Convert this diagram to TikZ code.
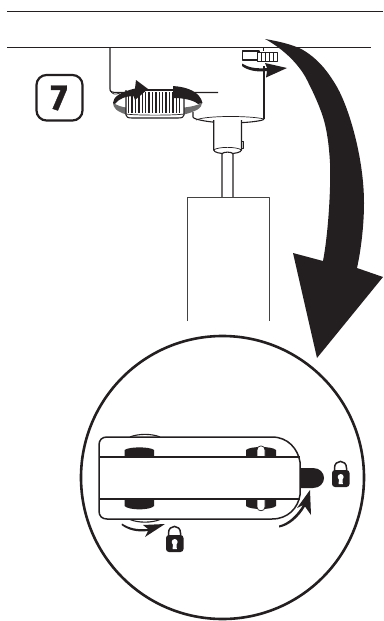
\documentclass[tikz,border=0pt]{standalone}
\usepackage{fontspec}
\setmainfont{Fira Sans}
\newfontfamily\numfont[BoldFont={Fira Sans Bold},BoldFeatures={FakeBold=1}]{Fira Sans}
\definecolor{ink}{HTML}{231F20}
\definecolor{ringgrey}{HTML}{6E6E6E}
\tikzset{
  part/.style={draw=ink,line width=1.1pt,line join=round},
  ceiling/.style={draw=ink,line width=0.9pt},
  thinpart/.style={draw=ink,line width=0.7pt,line join=round},
  lockshackle/.style={draw=ink,line width=1.5pt,fill=white},
}
\newcommand{\padlock}[2]{%
  \begin{scope}[shift={(#1,#2)}]
    \draw[lockshackle] (2.5,12) -- (2.5,7) .. controls (2.5,-1.8) and (14.5,-1.8) .. (14.5,7) -- (14.5,12);
    \fill[ink,rounded corners=3pt] (0,9) rectangle (17.5,26);
    \fill[white] (8.7,16) circle (3);
    \fill[white] (7,17) -- (10.4,17) -- (10.8,23) -- (6.6,23) -- cycle;
  \end{scope}}
\begin{document}
\begin{tikzpicture}[x=1pt,y=-1pt]
\useasboundingbox (0,0) rectangle (383,621);
% ceiling lines
\draw[ceiling] (7,11) -- (383,11);
\draw[ceiling] (7,47.5) -- (371,47.5);
% number box
\draw[draw=ink,line width=2.2pt,rounded corners=10pt] (36.5,75) rectangle (82.5,120.5);
\node[text=ink,font=\numfont\fontsize{36}{36}\selectfont\bfseries,inner sep=0pt] (num) at (59,98) {7};
% body
\draw[part] (110,47.5) -- (110,89) .. controls (110,92) and (112,92.5) .. (118,92.5) -- (218,92.5);
\draw[part] (264,66) -- (264,119);
\draw[part,fill=white] (193,112) -- (193,117) .. controls (193,120) and (215,123) .. (229,123) .. controls (245,123) and (264,121) .. (264,119);
\draw[thinpart] (196,120) .. controls (205,115.5) and (250,115.5) .. (264,119);
% neck
\draw[part,fill=white] (213.7,120) -- (213.7,150) .. controls (214,155) and (241,155) .. (241.5,150) -- (241.5,120);
\draw[thinpart] (213.7,150) .. controls (218,146.5) and (237,146.5) .. (241.5,150);
\draw[thinpart,fill=lightgray] (241.5,141) rectangle (243.5,148);
% rod
\draw[part,fill=white] (222,197) -- (222,154) .. controls (222,151.5) and (233,151.5) .. (233,154) -- (233,197);
% shade
\draw[thinpart,draw=ink!85] (187.5,321) -- (187.5,197) -- (269.5,197) -- (269.5,321);
% ring back
\fill[ringgrey] (113,103) .. controls (113.5,108) and (116,111) .. (126,114.5) -- (126,107.5) .. controls (121,107) and (117,105) .. (113,103) -- cycle;
\fill[ringgrey] (202,103) .. controls (202,108) and (196,111.5) .. (184,114.5) -- (184,107.5) .. controls (190,107) and (197,105.5) .. (202,103) -- cycle;
% knurled wheel
\draw[part,fill=white] (126,90) -- (126,115) .. controls (126,117) and (128,118) .. (132,118) -- (178,118) .. controls (182,118) and (184,117) .. (184,115) -- (184,90);
\foreach \k in {0,...,15}{ \fill[ink] ({128+\k*3.4},92) rectangle ({129.3+\k*3.4},113); }
\draw[thinpart] (126,114) .. controls (135,115.5) and (175,115.5) .. (184,114);
\draw[part] (136,90) -- (184,90);
% ring arrows
\draw[thinpart] (110,90) .. controls (112,94.5) and (115,95) .. (120,93);
\fill[ink] (113,103) .. controls (113.5,97) and (119,92.5) .. (135,88.5) -- (136,80) -- (148,89) -- (135,100) -- (133.5,96) .. controls (126,96) and (119,98.5) .. (115,104) -- cycle;
\fill[ink] (173,86) .. controls (188,87) and (200,92) .. (202.5,103) -- (198,104) .. controls (193,100) and (184,98) .. (173,98) -- cycle;
% knob
\draw[thinpart] (263,47.5) -- (263,51);
\draw[part,fill=white] (242.5,51) rectangle (259,60);
\draw[thinpart,fill=white] (257,52) rectangle (277,61);
\foreach \kx in {261,265,269,273}{\draw[thinpart] (\kx,52) -- (\kx,61);}
% small arrow at knob
\fill[ink] (242,63.5) .. controls (248,67.5) and (256,69) .. (267,68) -- (265,63) -- (287,68) -- (266,77.5) -- (267,71) .. controls (256,72.5) and (247,70) .. (242,66) -- cycle;
% big arrow
\fill[ink] (265,39) .. controls (283,42) and (296,46) .. (303,50) .. controls (320,60) and (330,75) .. (337,87) .. controls (350,110) and (364,160) .. (364,203) .. controls (364,225) and (361,250) .. (357,268) -- (383,277) -- (317,358) -- (293,253) -- (323,261) .. controls (328,235) and (331,190) .. (330,163) .. controls (329,145) and (327,130) .. (323,117) .. controls (318,102) and (312,90) .. (307,80) .. controls (298,62) and (280,47) .. cycle;
% detail circle
\draw[draw=ink,line width=2.6pt] (222.5,477.5) circle (141.5);
% adapter
\draw[part] (130,437) .. controls (138,433.5) and (152,433.5) .. (160,437);
\draw[part] (130,519.5) .. controls (138,523) and (152,523) .. (160,519.5);
\fill[ink] (124.5,457) -- (124.5,450) .. controls (129,446.5) and (150,446.5) .. (154,450) -- (154,457) -- cycle;
\fill[ink] (246,457) -- (246,450) .. controls (250,446) and (272,446) .. (276,450) -- (276,457) -- cycle;
\fill[ink] (124.5,499) -- (124.5,506) .. controls (129,510.5) and (150,510.5) .. (154,506) -- (154,499) -- cycle;
\fill[ink] (246,499) -- (246,506) .. controls (250,510) and (272,510) .. (276,506) -- (276,499) -- cycle;
\draw[thinpart,fill=white] (257,457) -- (257,450) .. controls (257,444.5) and (265,444.5) .. (265,450) -- (265,457) -- cycle;
\draw[thinpart,fill=white] (257,499) -- (257,507) .. controls (257,512) and (265,512) .. (265,507) -- (265,499) -- cycle;
\draw[draw=ink,line width=1.5pt] (107,437) -- (272,437) .. controls (288,437) and (298,449) .. (300,462) -- (300,495) .. controls (298,508) and (288,519) .. (272,519) -- (107,519) .. controls (102,519) and (99,516) .. (99,511) -- (99,445) .. controls (99,440) and (102,437) .. (107,437) -- cycle;
\draw[draw=ink,line width=1.5pt] (99,457) -- (300,457);
\draw[draw=ink,line width=1.5pt] (99,499) -- (300,499);
% plug
\fill[ink] (301,468) -- (313,468) .. controls (320,468) and (324,473) .. (324,478) .. controls (324,483) and (320,488) .. (313,488) -- (301,488) -- cycle;
% locks
\padlock{332}{461}
\padlock{166}{526}
% rotation arrows
\fill[ink] (122,523.5) .. controls (129,528) and (137,530) .. (148,529) -- (143,525) -- (165,524) -- (145,537) -- (148,531) .. controls (137,532.5) and (128,530) .. (121.5,525) -- cycle;
\fill[ink] (279,525.5) .. controls (288,523.5) and (297,515) .. (303,505) -- (297,508) -- (310,490) -- (311,515) -- (305,506.5) .. controls (299,517) and (289,526) .. (279,527.5) -- cycle;
\end{tikzpicture}
\end{document}
